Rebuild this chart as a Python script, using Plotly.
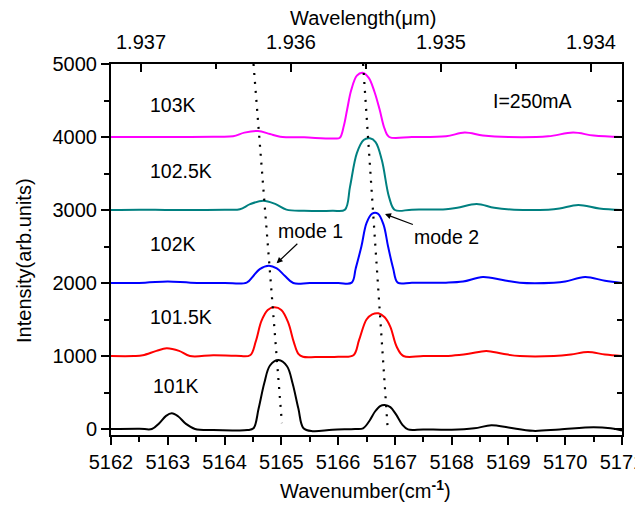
import plotly.graph_objects as go

# ---------------- data ----------------
x_101K = [5162.0, 5162.5, 5162.72, 5162.85, 5162.97, 5163.07, 5163.18, 5163.32, 5163.48,
          5163.8, 5164.2, 5164.40, 5164.51, 5164.60, 5164.70, 5164.80, 5164.95, 5165.10,
          5165.20, 5165.30, 5165.39, 5165.55, 5165.9, 5166.3, 5166.44, 5166.55, 5166.65,
          5166.74, 5166.82, 5166.92, 5167.02, 5167.13, 5167.23, 5167.5, 5168.0, 5168.4,
          5168.7, 5169.0, 5169.43, 5169.9, 5170.5, 5170.8, 5171.0]
y_101K = [0, 5, 0, 80, 180, 215, 175, 70, 0,
          -15, -20, -15, 10, 280, 630, 870, 945, 860,
          620, 280, 10, -30, -10, 0, 10, 110, 240,
          315, 330, 300, 200, 60, -5, -5, -10, 10,
          50, 20, -25, -5, 25, 10, -20]

x_1015K = [5162.0, 5162.4, 5162.56, 5162.8, 5162.98, 5163.2, 5163.39, 5163.8, 5164.2,
           5164.45, 5164.55, 5164.65, 5164.76, 5164.88, 5165.0, 5165.12, 5165.22, 5165.30,
           5165.38, 5165.6, 5166.0, 5166.27, 5166.37, 5166.50, 5166.60, 5166.71, 5166.82,
           5166.92, 5167.03, 5167.15, 5167.5, 5168.0, 5168.3, 5168.61, 5168.9, 5169.2,
           5169.8, 5170.1, 5170.4, 5170.7, 5171.0]
y_1015K = [1000, 1000, 1010, 1070, 1105, 1070, 1000, 1010, 1005,
           1010, 1200, 1480, 1630, 1667, 1630, 1460, 1190, 1030,
           990, 985, 990, 1010, 1220, 1500, 1570, 1585, 1530,
           1400, 1130, 1000, 1000, 1005, 1030, 1070, 1030, 1000,
           1000, 1020, 1055, 1020, 1000]

x_102K = [5162.0, 5162.6, 5163.0, 5163.4, 5164.0, 5164.39, 5164.50, 5164.62, 5164.78,
          5164.92, 5165.06, 5165.21, 5165.5, 5166.0, 5166.24, 5166.31, 5166.41, 5166.50,
          5166.60, 5166.70, 5166.80, 5166.88, 5166.97, 5167.05, 5167.3, 5167.9, 5168.2,
          5168.55, 5168.9, 5169.2, 5169.8, 5170.0, 5170.35, 5170.7, 5171.0]
y_102K = [2000, 2005, 2020, 2005, 2000, 2005, 2090, 2190, 2237,
          2200, 2100, 2000, 2000, 2000, 2005, 2200, 2500, 2820,
          2950, 2950, 2800, 2500, 2200, 2005, 2005, 2005, 2020,
          2082, 2040, 2005, 2005, 2020, 2082, 2030, 2000]

x_1025K = [5162.0, 5162.5, 5163.0, 5163.5, 5164.0, 5164.27, 5164.45, 5164.68, 5164.9,
           5165.09, 5165.4, 5165.9, 5166.12, 5166.21, 5166.33, 5166.45, 5166.56, 5166.66,
           5166.77, 5166.90, 5167.0, 5167.3, 5167.9, 5168.1, 5168.44, 5168.75, 5169.1,
           5169.7, 5169.9, 5170.23, 5170.6, 5171.0]
y_1025K = [3000, 3005, 3000, 3000, 3005, 3010, 3080, 3127, 3080,
           3005, 2990, 2990, 3005, 3320, 3780, 3960, 3982, 3930,
           3685, 3170, 3000, 3005, 3010, 3030, 3082, 3030, 3005,
           3005, 3020, 3070, 3020, 3000]

x_103K = [5162.0, 5162.6, 5163.2, 5163.8, 5164.15, 5164.35, 5164.59, 5164.8, 5164.98,
          5165.4, 5165.94, 5166.03, 5166.10, 5166.16, 5166.23, 5166.33, 5166.43, 5166.54,
          5166.64, 5166.73, 5166.82, 5166.90, 5167.3, 5167.9, 5168.23, 5168.55, 5169.0,
          5169.7, 5170.14, 5170.5, 5171.0]
y_103K = [4000, 4000, 4000, 4005, 4010, 4060, 4082, 4040, 4005,
          3995, 3980, 3990, 4150, 4380, 4640, 4840, 4881, 4810,
          4620, 4380, 4110, 4000, 4000, 4010, 4060, 4020, 4000,
          4010, 4060, 4020, 4000]

series_names = ["101K", "101.5K", "102K", "102.5K", "103K"]
series_colors = ["#000000", "#FF0000", "#0000FF", "#008080", "#FF00FF"]

mode1_x = [5164.51, 5165.01]
mode1_y = [5000, 80]
mode2_x = [5166.44, 5166.87]
mode2_y = [5000, 40]

wn_ticks = [5162, 5163, 5164, 5165, 5166, 5167, 5168, 5169, 5170, 5171]
wl_ticks = [1.937, 1.936, 1.935, 1.934]
wl_ticktext = ["1.937", "1.936", "1.935", "1.934"]

# label positions (data coords)
label_x = [5162.70, 5162.65, 5162.65, 5162.65, 5162.65]
label_y = [589, 1534, 2534, 3534, 4438]

FONT = "Liberation Sans, Arial, sans-serif"

fig = go.Figure()
xs = [x_101K, x_1015K, x_102K, x_1025K, x_103K]
ys = [y_101K, y_1015K, y_102K, y_1025K, y_103K]
for xv, yv, nm, col in zip(xs, ys, series_names, series_colors):
    fig.add_trace(go.Scatter(x=xv, y=yv, mode="lines", name=nm,
                             line=dict(color=col, width=2, shape="spline", smoothing=1.0),
                             hoverinfo="skip"))

for mx, my in [(mode1_x, mode1_y), (mode2_x, mode2_y)]:
    fig.add_trace(go.Scatter(x=mx, y=my, mode="lines",
                             line=dict(color="black", width=2.2, dash="2px,7px"),
                             hoverinfo="skip"))

# dummy traces to activate the top and right axes
fig.add_trace(go.Scatter(x=[1.937], y=[None], xaxis="x2", yaxis="y", mode="lines", hoverinfo="skip"))
fig.add_trace(go.Scatter(x=[5162], y=[None], xaxis="x", yaxis="y2", mode="lines", hoverinfo="skip"))

axis_common = dict(showgrid=False, zeroline=False, showline=True, linewidth=2, linecolor="black",
                   tickcolor="black", tickwidth=1.5, tickfont=dict(family=FONT, size=20, color="black"))

yrange = [-82, 5000]

# page body has an 8px default margin, so the figure is drawn 8px in from the window edge
fig.update_layout(
    width=643, height=504,
    margin=dict(l=103, r=29, t=56, b=77, autoexpand=False),
    paper_bgcolor="white", plot_bgcolor="white",
    showlegend=False,
    font=dict(family=FONT, size=20, color="black"),
    xaxis=dict(range=[5162, 5171], tickmode="array", tickvals=wn_ticks,
               ticks="outside", ticklen=8, ticklabeloverflow="allow",
               minor=dict(tickmode="linear", tick0=5162, dtick=0.5, ticks="outside",
                          ticklen=5, tickwidth=1.5, tickcolor="black", showgrid=False),
               **axis_common),
    yaxis=dict(range=yrange, tickmode="linear", tick0=0, dtick=1000,
               ticks="outside", ticklen=8,
               minor=dict(tickmode="linear", tick0=0, dtick=500, ticks="outside",
                          ticklen=5, tickwidth=1.5, tickcolor="black", showgrid=False),
               **axis_common),
    xaxis2=dict(overlaying="x", side="top", anchor="y", range=[1.9372, 1.933793],
                tickmode="array", tickvals=wl_ticks, ticktext=wl_ticktext,
                ticks="inside", ticklen=8, ticklabelstandoff=5,
                minor=dict(tickmode="linear", tick0=1.937, dtick=0.0005, ticks="inside",
                           ticklen=5, tickwidth=1.5, tickcolor="black", showgrid=False),
                **axis_common),
    yaxis2=dict(overlaying="y", side="right", anchor="x", range=yrange,
                tickmode="linear", tick0=0, dtick=1000, ticks="inside", ticklen=8,
                showticklabels=False,
                minor=dict(tickmode="linear", tick0=0, dtick=500, ticks="inside",
                           ticklen=5, tickwidth=1.5, tickcolor="black", showgrid=False),
                **axis_common),
)

ann = []
for nm, lx, ly in zip(series_names, label_x, label_y):
    ann.append(dict(x=lx, y=ly, xref="x", yref="y", text=nm, showarrow=False,
                    xanchor="left", yanchor="middle", font=dict(family=FONT, size=19.5, color="black")))
ann.append(dict(x=5169.43, y=4493, xref="x", yref="y", text="I=250mA", showarrow=False,
                xanchor="center", yanchor="middle", font=dict(family=FONT, size=19.5, color="black")))
ann.append(dict(x=5164.917, y=2270, xref="x", yref="y", text="mode 1", showarrow=True,
                ax=34, ay=-32, arrowhead=2, arrowsize=1, arrowwidth=1.2, arrowcolor="black",
                font=dict(family=FONT, size=19.5, color="black")))
ann.append(dict(x=5166.826, y=2945, xref="x", yref="y", text="mode 2", showarrow=True,
                ax=61, ay=23, arrowhead=2, arrowsize=1, arrowwidth=1.2, arrowcolor="black",
                font=dict(family=FONT, size=19.5, color="black")))
# axis titles
ann.append(dict(x=-0.1703, y=0.4717, xref="paper", yref="paper", text="Intensity(arb.units)",
                textangle=-90, showarrow=False, xanchor="center", yanchor="middle",
                font=dict(family=FONT, size=20, color="black")))
ann.append(dict(x=0.499, y=-0.148, xref="paper", yref="paper",
                text="Wavenumber(cm<sup><b>-1</b></sup>)",
                showarrow=False, xanchor="center", yanchor="middle",
                font=dict(family=FONT, size=20, color="black")))
ann.append(dict(x=0.494, y=1.124, xref="paper", yref="paper", text="Wavelength(μm)",
                showarrow=False, xanchor="center", yanchor="middle",
                font=dict(family=FONT, size=20, color="black")))
fig.update_layout(annotations=ann)

fig.write_html("out.html")
